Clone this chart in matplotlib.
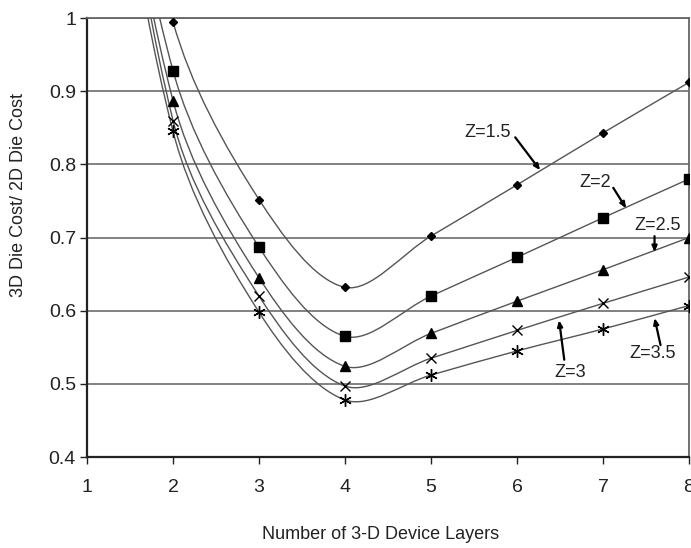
import matplotlib
matplotlib.use("Agg")
import matplotlib.pyplot as plt
import numpy as np
from matplotlib.path import Path
from matplotlib.patches import PathPatch

plt.rcParams['font.family'] = ['Liberation Sans', 'DejaVu Sans']

layers = [1, 2, 3, 4, 5, 6, 7, 8]
# x=1 values sit above the axis (clipped), they only shape the left end of the curves
z15 = [1.60, 0.995, 0.752, 0.632, 0.702, 0.772, 0.843, 0.912]
z20 = [1.55, 0.928, 0.687, 0.565, 0.620, 0.673, 0.727, 0.780]
z25 = [1.55, 0.887, 0.645, 0.524, 0.569, 0.613, 0.656, 0.700]
z30 = [1.58, 0.860, 0.620, 0.497, 0.535, 0.573, 0.610, 0.646]
z35 = [1.52, 0.845, 0.598, 0.478, 0.512, 0.545, 0.575, 0.607]
series = [z15, z20, z25, z30, z35]
markers = ['D', 's', '^', 'x', (6, 2, 0)]
msizes = [4.5, 6.5, 6.5, 7, 9]
labels = ['Z=1.5', 'Z=2', 'Z=2.5', 'Z=3', 'Z=3.5']

# pixel size of one data unit, used to measure segment lengths on screen
PX_X, PX_Y = 86.0, 732.0


def smooth_path(xs, ys):
    # smoothed line: cubic bezier through each point, tangents weighted by
    # on-screen segment length
    pts = np.column_stack([xs, ys]).astype(float)
    n = len(pts)

    def dist(a, b):
        return np.hypot((b[0] - a[0]) * PX_X, (b[1] - a[1]) * PX_Y)

    verts = [pts[0]]
    codes = [Path.MOVETO]
    for i in range(n - 1):
        p1, p2 = pts[i], pts[i + 1]
        d12 = dist(p1, p2)
        if i > 0:
            p0 = pts[i - 1]
            c1 = p1 + (p2 - p0) * d12 / (dist(p0, p1) + d12) / 3.0
        else:
            c1 = p1 + (p2 - p1) / 3.0
        if i + 2 < n:
            p3 = pts[i + 2]
            c2 = p2 - (p3 - p1) * d12 / (d12 + dist(p2, p3)) / 3.0
        else:
            c2 = p2 - (p2 - p1) / 3.0
        verts += [c1, c2, p2]
        codes += [Path.CURVE4] * 3
    return Path(verts, codes)


fig = plt.figure(figsize=(6.91, 5.48), dpi=100)
ax = fig.add_axes([0.126, 0.166, 0.871, 0.801])

for ys, m, ms in zip(series, markers, msizes):
    patch = PathPatch(smooth_path(layers, ys), facecolor='none',
                      edgecolor='#555555', lw=1.0, zorder=3)
    ax.add_patch(patch)
    ax.plot(layers, ys, linestyle='none', marker=m, markersize=ms,
            color='black', markeredgewidth=1.0, zorder=4)

ax.set_xlim(1, 8)
ax.set_ylim(0.4, 1.0)
ax.set_xticks(layers)
ax.set_yticks([0.4, 0.5, 0.6, 0.7, 0.8, 0.9, 1.0])
ax.set_yticklabels(['0.4', '0.5', '0.6', '0.7', '0.8', '0.9', '1'])
ax.yaxis.grid(True, color='#777777', lw=1.3)
ax.set_axisbelow(True)
ax.tick_params(labelsize=14, length=5, width=1, colors='#222222')
ax.tick_params(axis='x', pad=11)
ax.tick_params(axis='y', pad=3)

for s in ['left', 'bottom']:
    ax.spines[s].set_linewidth(1.6)
    ax.spines[s].set_color('#222222')
for s in ['top', 'right']:
    ax.spines[s].set_linewidth(1.3)
    ax.spines[s].set_color('#666666')

ax.set_ylabel('3D Die Cost/ 2D Die Cost', fontsize=13, color='#222222')
ax.yaxis.set_label_coords(-0.10, 0.597)
ax.set_xlabel('Number of 3-D Device Layers', fontsize=13, color='#222222')
ax.xaxis.set_label_coords(0.488, -0.157)

# callouts: text position, arrow start, arrow tip
text_pos = [(5.66, 0.843), (6.91, 0.775), (7.64, 0.717), (6.62, 0.516), (7.58, 0.542)]
arrow_from = [(5.98, 0.837), (7.12, 0.768), (7.60, 0.702), (6.55, 0.533), (7.67, 0.553)]
arrow_to = [(6.27, 0.792), (7.27, 0.740), (7.60, 0.680), (6.49, 0.587), (7.60, 0.590)]

for lab, tp, af, at in zip(labels, text_pos, arrow_from, arrow_to):
    ax.text(tp[0], tp[1], lab, fontsize=13, ha='center', va='center',
            color='#222222', zorder=5)
    ax.annotate('', xy=at, xytext=af,
                arrowprops=dict(arrowstyle='-|>,head_length=0.35,head_width=0.15',
                                color='black', lw=1.6, shrinkA=0, shrinkB=0),
                zorder=5)

fig.savefig('out.png', dpi=100)
